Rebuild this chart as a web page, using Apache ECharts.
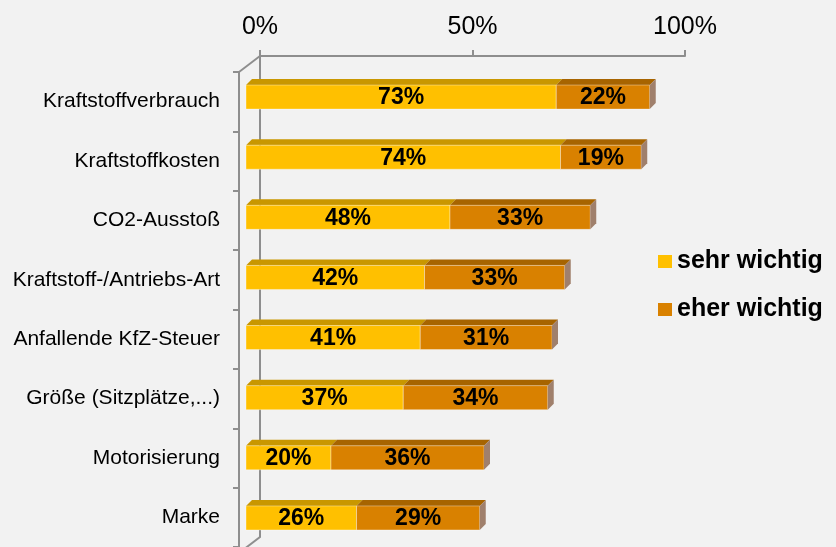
<!DOCTYPE html>
<html>
<head>
<meta charset="utf-8">
<script src="https://cdn.jsdelivr.net/npm/echarts@6/dist/echarts.min.js"></script>
<style>
  html, body { margin: 0; padding: 0; background: #F2F2F2; }
  #main { width: 836px; height: 547px; }
</style>
</head>
<body>
<div id="main"></div>
<script>
const categories = ["Kraftstoffverbrauch", "Kraftstoffkosten", "CO2-Ausstoß", "Kraftstoff-/Antriebs-Art",
  "Anfallende KfZ-Steuer", "Größe (Sitzplätze,...)", "Motorisierung", "Marke"];
const sehrWichtig = [73, 74, 48, 42, 41, 37, 20, 26];
const eherWichtig = [22, 19, 33, 33, 31, 34, 36, 29];
const xTicks = [0, 50, 100];

// 3d look: front face is shifted from the back wall
const FRONT_DX = -14, FRONT_DY = 11, DEPTH = 6;
const WALL_DX = -21, WALL_DY = 16;
const lineColor = '#8E8E8E';

function barRender(faces, withSide) {
  return function (params, api) {
    const cat = api.value(0);
    const p0 = api.coord([api.value(1), cat]);
    const p1 = api.coord([api.value(2), cat]);
    const h = api.size([0, 1])[1] * 0.4;
    const x0 = p0[0] + FRONT_DX, x1 = p1[0] + FRONT_DX;
    const top = p0[1] + FRONT_DY - h / 2;
    const children = [
      { type: 'polygon', shape: { points: [[x0, top], [x0 + DEPTH, top - DEPTH], [x1 + DEPTH, top - DEPTH], [x1, top]] },
        style: { fill: faces.top } },
      { type: 'rect', shape: { x: x0, y: top, width: x1 - x0, height: h },
        style: { fill: faces.front, stroke: 'rgba(255,255,255,0.35)', lineWidth: 1 } }
    ];
    if (withSide) {
      children.push({ type: 'polygon',
        shape: { points: [[x1, top], [x1 + DEPTH, top - DEPTH], [x1 + DEPTH, top + h - DEPTH], [x1, top + h]] },
        style: { fill: faces.side } });
    }
    children.push({ type: 'text', style: {
      text: api.value(3) + '%', x: (x0 + x1) / 2, y: top + h / 2 + 1, align: 'center', verticalAlign: 'middle',
      fill: '#000', font: 'bold 23px "Liberation Sans", Arial, sans-serif' } });
    return { type: 'group', children: children };
  };
}

const sehrData = categories.map((c, i) => [i, 0, sehrWichtig[i], sehrWichtig[i]]);
const eherData = categories.map((c, i) => [i, sehrWichtig[i], sehrWichtig[i] + eherWichtig[i], eherWichtig[i]]);

const chart = echarts.init(document.getElementById('main'));
chart.setOption({
  backgroundColor: '#F2F2F2',
  textStyle: { fontFamily: '"Liberation Sans", Arial, sans-serif' },
  animation: false,
  legend: {
    data: ['sehr wichtig', 'eher wichtig'],
    orient: 'vertical',
    left: 653, top: 244,
    itemWidth: 14, itemHeight: 13, itemGap: 23,
    icon: 'rect',
    textStyle: { fontSize: 25, fontWeight: 'bold', color: '#000' }
  },
  grid: [
    { left: 260, top: 56, width: 425, height: 481 },
    { left: 239, top: 72, width: 425, height: 481 }
  ],
  xAxis: [
    { type: 'value', gridIndex: 0, position: 'top', min: 0, max: 100, interval: 50,
      axisLine: { show: true, lineStyle: { color: lineColor, width: 2 } },
      axisTick: { show: true, length: 6, lineStyle: { color: lineColor, width: 2 } },
      splitLine: { show: false },
      axisLabel: { fontSize: 25, color: '#000', margin: 16, formatter: v => xTicks.includes(v) ? v + '%' : '' } },
    { type: 'value', gridIndex: 1, min: 0, max: 100, show: false }
  ],
  yAxis: [
    { type: 'category', gridIndex: 0, data: categories, inverse: true,
      axisLine: { show: true, lineStyle: { color: lineColor, width: 2 } },
      axisTick: { show: false }, axisLabel: { show: false } },
    { type: 'category', gridIndex: 1, data: categories, inverse: true,
      axisLine: { show: true, lineStyle: { color: lineColor, width: 2 } },
      axisTick: { show: true, length: 6, lineStyle: { color: lineColor, width: 2 } },
      axisLabel: { fontSize: 21, color: '#000', margin: 19 } }
  ],
  series: [
    { type: 'custom', name: 'frame', silent: true, xAxisIndex: 0, yAxisIndex: 0, data: [[0]], z: 1,
      renderItem: function (params) {
        const cs = params.coordSys;
        const st = { stroke: lineColor, lineWidth: 2 };
        return { type: 'group', children: [
          { type: 'line', shape: { x1: cs.x, y1: cs.y, x2: cs.x + WALL_DX, y2: cs.y + WALL_DY }, style: st },
          { type: 'line', shape: { x1: cs.x, y1: cs.y + cs.height, x2: cs.x + WALL_DX, y2: cs.y + cs.height + WALL_DY }, style: st }
        ] };
      } },
    { type: 'custom', name: 'sehr wichtig', xAxisIndex: 0, yAxisIndex: 0, z: 3,
      itemStyle: { color: '#FFC000' },
      renderItem: barRender({ front: '#FFC000', top: '#C99700', side: '#A0806C' }, false),
      data: sehrData },
    { type: 'custom', name: 'eher wichtig', xAxisIndex: 0, yAxisIndex: 0, z: 3,
      itemStyle: { color: '#D98100' },
      renderItem: barRender({ front: '#D98100', top: '#A76400', side: '#A0806C' }, true),
      data: eherData }
  ]
});
</script>
</body>
</html>
